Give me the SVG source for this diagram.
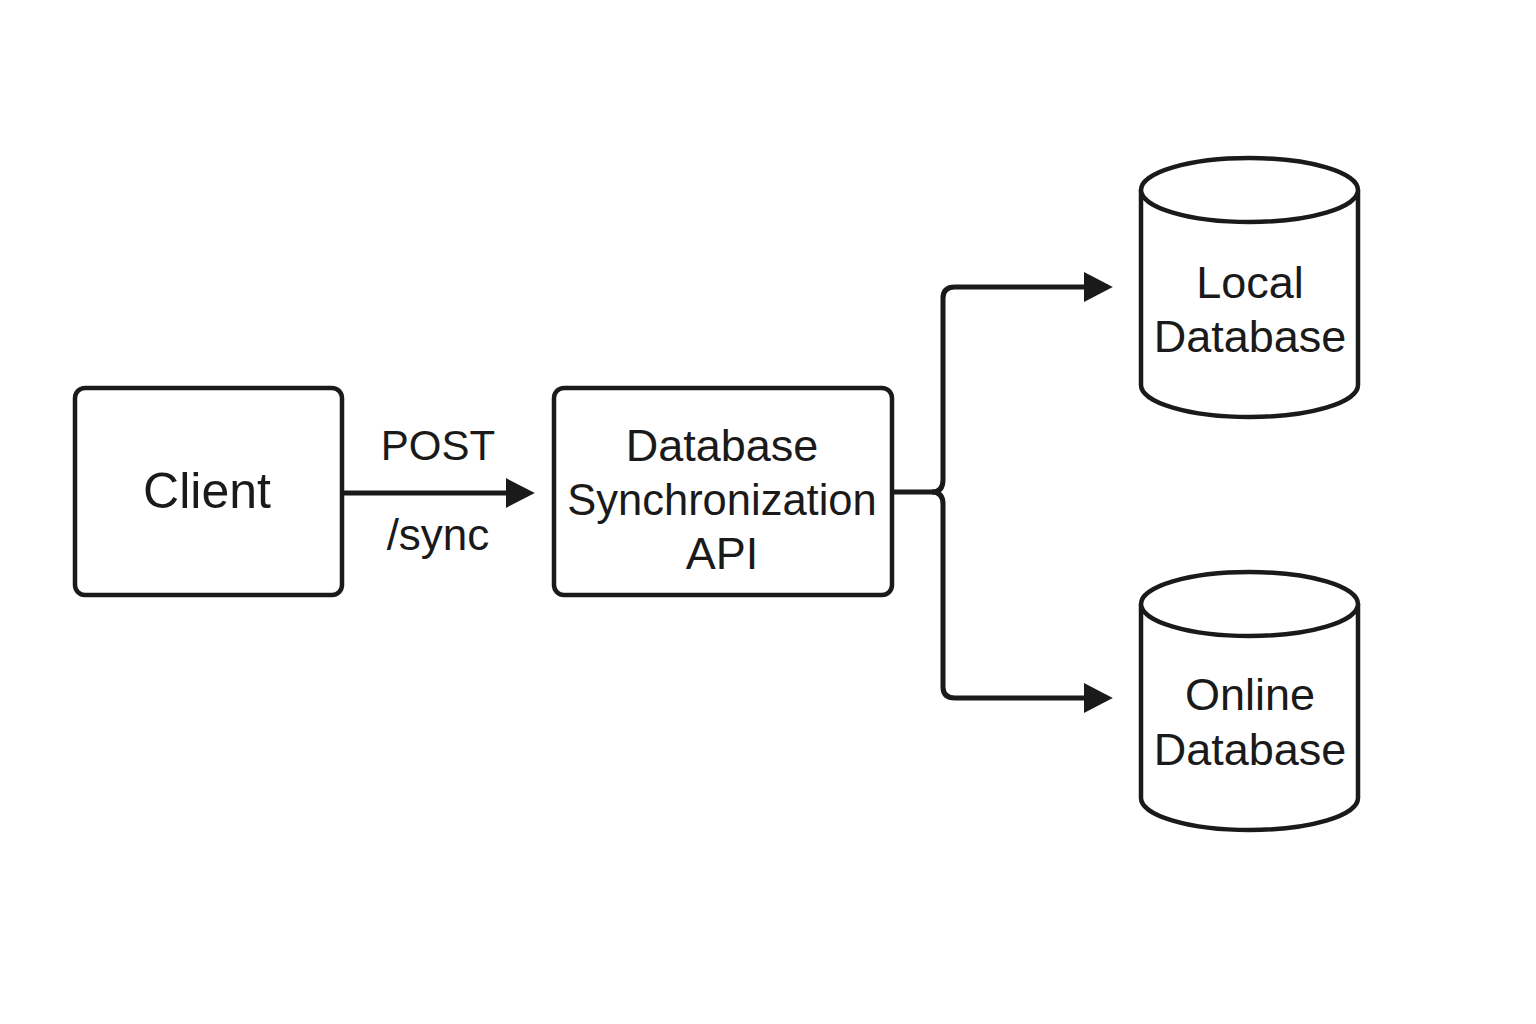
<svg xmlns="http://www.w3.org/2000/svg" width="1536" height="1024" viewBox="0 0 1536 1024">
<style>
.box{fill:#fff;stroke:#1a1a1a;stroke-width:4.5}
.ln{fill:none;stroke:#1a1a1a;stroke-width:5;stroke-linejoin:round}
text{font-family:"Liberation Sans",Arial,sans-serif;fill:#1a1a1a;text-anchor:middle}
</style>
<defs>
<marker id="ah" viewBox="0 0 10 10" refX="8" refY="5" markerWidth="29" markerHeight="30" markerUnits="userSpaceOnUse" orient="auto" preserveAspectRatio="none">
<path d="M0,0 L10,5 L0,10 z" fill="#1a1a1a"/>
</marker>
</defs>
<rect width="1536" height="1024" fill="#fff"/>
<g id="client">
<rect class="box" x="75" y="388" width="267" height="207" rx="10"/>
<text x="207" y="508" font-size="50">Client</text>
</g>
<g id="api">
<rect class="box" x="554" y="388" width="338" height="207" rx="10"/>
<text x="722" y="461" font-size="45">Database</text>
<text x="722" y="515" font-size="43.5">Synchronization</text>
<text x="722" y="569" font-size="45">API</text>
</g>
<g id="local-db">
<path class="box" d="M1141,190 L1141,385 A108.5,32 0 0 0 1358,385 L1358,190"/>
<ellipse class="box" cx="1249.5" cy="190" rx="108.5" ry="32"/>
<text x="1250" y="298" font-size="45">Local</text>
<text x="1250" y="352" font-size="45">Database</text>
</g>
<g id="online-db">
<path class="box" d="M1141,604 L1141,798 A108.5,32 0 0 0 1358,798 L1358,604"/>
<ellipse class="box" cx="1249.5" cy="604" rx="108.5" ry="32"/>
<text x="1250" y="710" font-size="45">Online</text>
<text x="1250" y="765" font-size="45">Database</text>
</g>
<g id="connectors">
<line class="ln" x1="342" y1="493" x2="529" y2="493" marker-end="url(#ah)"/>
<text x="438" y="460" font-size="42">POST</text>
<text x="438" y="550" font-size="44">/sync</text>
<path class="ln" d="M892,492 L932,492 Q943,492 943,480 L943,298 Q943,287 955,287 L1107,287" marker-end="url(#ah)"/>
<path class="ln" d="M932,492 Q943,492 943,504 L943,687 Q943,698 955,698 L1107,698" marker-end="url(#ah)"/>
</g>
</svg>
